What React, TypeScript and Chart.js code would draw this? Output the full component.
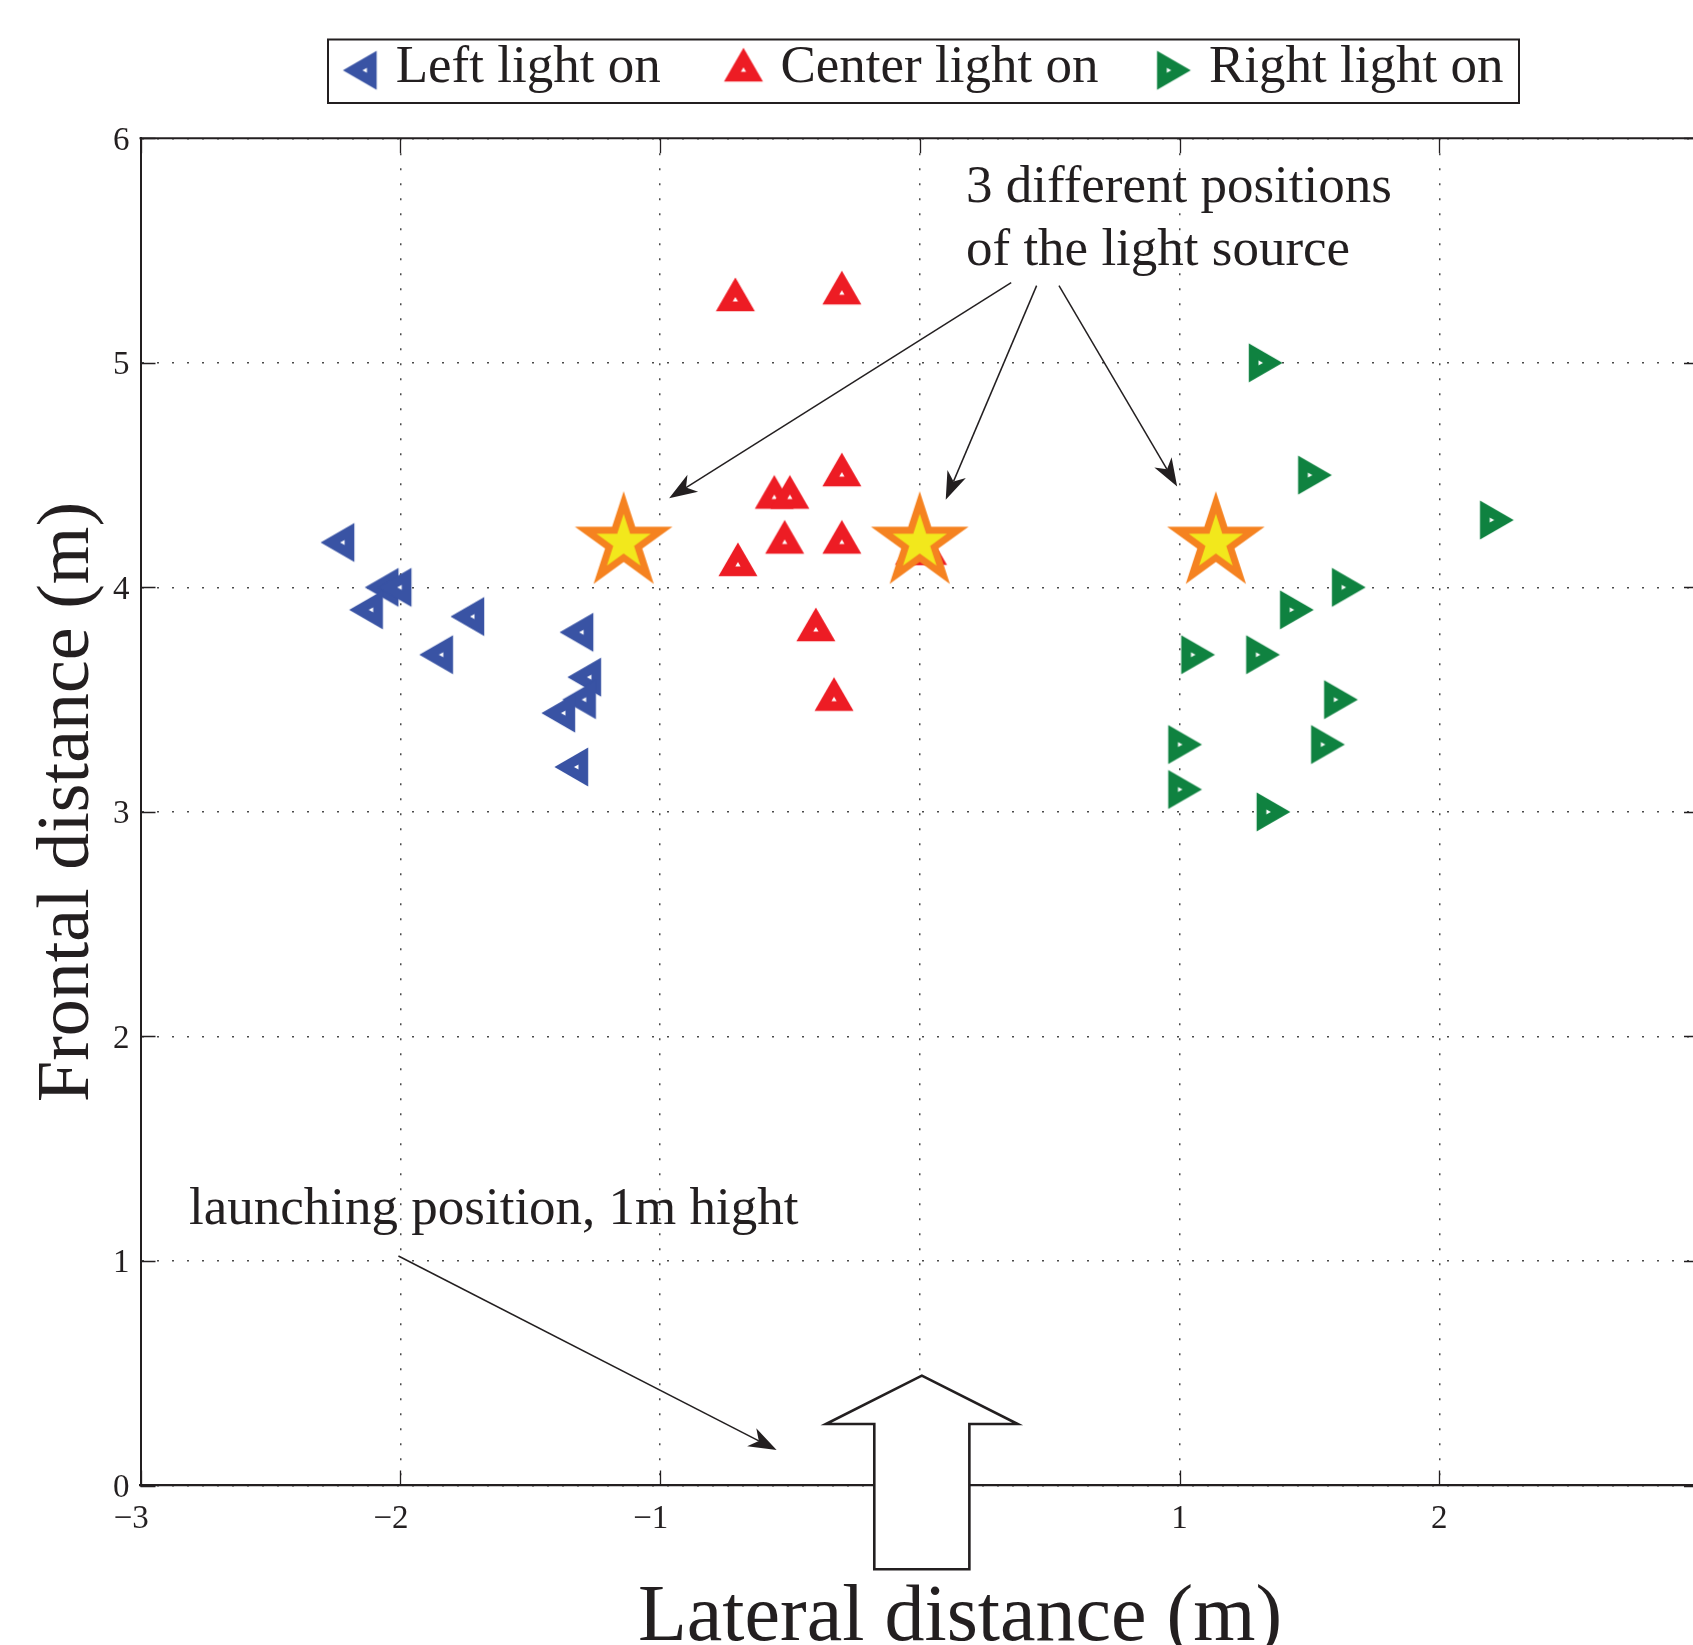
import React, { useEffect, useRef } from "react";
import { Chart, registerables } from "chart.js";

Chart.register(...registerables);

// ---------------- data ----------------
const xTickValues = [-3, -2, -1, 0, 1, 2, 3];
const yTickValues = [0, 1, 2, 3, 4, 5, 6];
const seriesLabels = ["Left light on", "Center light on", "Right light on"];

const leftX = [-2.22, -2.05, -2.0, -2.11, -1.72, -1.84, -1.3, -1.27, -1.29, -1.37, -1.32];
const leftY = [4.2, 4.0, 4.0, 3.9, 3.87, 3.7, 3.8, 3.6, 3.5, 3.44, 3.2];

const centerX = [-0.71, -0.3, -0.3, -0.56, -0.5, -0.52, -0.3, -0.7, -0.4, -0.33, -0.02, 0.03];
const centerY = [5.28, 5.31, 4.5, 4.4, 4.4, 4.2, 4.2, 4.1, 3.81, 3.5, 4.15, 4.15];

const rightX = [1.31, 1.5, 2.2, 1.63, 1.43, 1.05, 1.3, 1.6, 1.0, 1.55, 1.0, 1.34];
const rightY = [5.0, 4.5, 4.3, 4.0, 3.9, 3.7, 3.7, 3.5, 3.3, 3.3, 3.1, 3.0];

const lightX = [-1.14, 0.0, 1.14];
const lightY = [4.2, 4.2, 4.2];

const xTitle = "Lateral distance (m)";
const yTitle = "Frontal distance (m)";

const calloutLines = ["3 different positions", "of the light source"];
const calloutX = 0.178;
const calloutBaselines = [5.717, 5.435];
const lightArrowStarts = [
  [0.352, 5.357],
  [0.45, 5.344],
  [0.536, 5.344],
];
const lightArrowEnds = [
  [-0.965, 4.397],
  [0.1, 4.39],
  [0.991, 4.449],
];

const launchText = "launching position, 1m hight";
const launchTextPos = [-2.813, 1.165];
const launchArrowStart = [-2.007, 1.022];
const launchArrowEnd = [-0.551, 0.158];

// hollow "launch" arrow outline, in data units
const bigArrowX = [0.008, 0.377, 0.191, 0.191, -0.175, -0.175, -0.361];
const bigArrowY = [0.489, 0.274, 0.274, -0.373, -0.373, 0.274, 0.274];

// ---------------- style ----------------
const INK = "#231f20";
const BLUE = "#3953a4";
const RED = "#ed1c24";
const GREEN = "#0f8240";
const STAR_FILL = "#f2e81c";
const STAR_EDGE = "#f58220";
const SERIF = '"Liberation Serif", "Times New Roman", serif';

function makeTriangle(color: string, dir: "left" | "up" | "right"): HTMLCanvasElement {
  const S = 52;
  const c = document.createElement("canvas");
  c.width = S;
  c.height = S;
  const ctx = c.getContext("2d")!;
  const side = 39;
  const R = side / Math.sqrt(3);
  const rot = dir === "up" ? 0 : dir === "right" ? Math.PI / 2 : -Math.PI / 2;
  ctx.translate(S / 2, S / 2);
  ctx.rotate(rot);
  const tri = (r: number) => {
    ctx.beginPath();
    for (let i = 0; i < 3; i++) {
      const a = (i * 2 * Math.PI) / 3;
      ctx.lineTo(r * Math.sin(a), -r * Math.cos(a));
    }
    ctx.closePath();
  };
  tri(R);
  ctx.fillStyle = color;
  ctx.fill();
  tri(3);
  ctx.fillStyle = "#ffffff";
  ctx.fill();
  return c;
}

function makeStar(): HTMLCanvasElement {
  const S = 124;
  const c = document.createElement("canvas");
  c.width = S;
  c.height = S;
  const ctx = c.getContext("2d")!;
  ctx.translate(S / 2, S / 2);
  const Ro = 40;
  const Ri = Ro * 0.382;
  ctx.beginPath();
  for (let i = 0; i < 10; i++) {
    const r = i % 2 === 0 ? Ro : Ri;
    const a = (i * Math.PI) / 5;
    ctx.lineTo(r * Math.sin(a), -r * Math.cos(a));
  }
  ctx.closePath();
  ctx.fillStyle = STAR_FILL;
  ctx.fill();
  ctx.lineJoin = "miter";
  ctx.miterLimit = 10;
  ctx.lineWidth = 7;
  ctx.strokeStyle = STAR_EDGE;
  ctx.stroke();
  return c;
}

function drawArrow(ctx: CanvasRenderingContext2D, x1: number, y1: number, x2: number, y2: number) {
  const ang = Math.atan2(y2 - y1, x2 - x1);
  const ux = Math.cos(ang);
  const uy = Math.sin(ang);
  const px = -uy;
  const py = ux;
  const L = 28;
  const W = 10;
  const back = 20;
  ctx.beginPath();
  ctx.moveTo(x1, y1);
  ctx.lineTo(x2 - ux * back, y2 - uy * back);
  ctx.stroke();
  ctx.beginPath();
  ctx.moveTo(x2, y2);
  ctx.lineTo(x2 - ux * L + px * W, y2 - uy * L + py * W);
  ctx.lineTo(x2 - ux * back, y2 - uy * back);
  ctx.lineTo(x2 - ux * L - px * W, y2 - uy * L - py * W);
  ctx.closePath();
  ctx.fill();
}

const CANVAS_W = 1720;
const CANVAS_H = 1645;
const VISIBLE_W = 1693;

export default function App() {
  const ref = useRef<HTMLCanvasElement>(null);

  useEffect(() => {
    const canvas = ref.current!;
    const leftImg = makeTriangle(BLUE, "left");
    const upImg = makeTriangle(RED, "up");
    const rightImg = makeTriangle(GREEN, "right");
    const starImg = makeStar();

    const annotations = {
      id: "annotations",
      afterDatasetsDraw(chart: any) {
        const ctx: CanvasRenderingContext2D = chart.ctx;
        const xs = chart.scales.x;
        const ys = chart.scales.y;
        const ca = chart.chartArea;
        const X = (v: number) => xs.getPixelForValue(v);
        const Y = (v: number) => ys.getPixelForValue(v);
        ctx.save();

        // top frame line
        ctx.strokeStyle = INK;
        ctx.lineWidth = 2;
        ctx.beginPath();
        ctx.moveTo(ca.left - 1, ca.top);
        ctx.lineTo(ca.right + 1, ca.top);
        ctx.stroke();

        // inward tick marks
        ctx.lineWidth = 1.3;
        ctx.beginPath();
        xTickValues.forEach((v) => {
          const px = Math.round(X(v)) + 0.5;
          ctx.moveTo(px, ca.bottom);
          ctx.lineTo(px, ca.bottom - 15);
          ctx.moveTo(px, ca.top);
          ctx.lineTo(px, ca.top + 15);
        });
        yTickValues.forEach((v) => {
          const py = Math.round(Y(v)) + 0.5;
          ctx.moveTo(ca.left, py);
          ctx.lineTo(ca.left + 15, py);
          ctx.moveTo(ca.right, py);
          ctx.lineTo(ca.right - 15, py);
        });
        ctx.stroke();

        // tick labels
        ctx.fillStyle = INK;
        ctx.font = `33px ${SERIF}`;
        ctx.textBaseline = "alphabetic";
        xTickValues.forEach((v) => {
          const px = X(v);
          if (px > VISIBLE_W - 10) return;
          const digits = String(Math.abs(v));
          const w = ctx.measureText(digits).width;
          ctx.textAlign = "center";
          ctx.fillText(digits, px, ca.bottom + 42);
          if (v < 0) {
            ctx.textAlign = "right";
            ctx.fillText("\u2212", px - w / 2, ca.bottom + 42);
          }
        });
        ctx.textAlign = "right";
        yTickValues.forEach((v) => {
          ctx.fillText(String(v), ca.left - 11, Y(v) + 11.5);
        });

        // big hollow launch arrow
        ctx.beginPath();
        bigArrowX.forEach((bx, i) => ctx.lineTo(X(bx), Y(bigArrowY[i])));
        ctx.closePath();
        ctx.fillStyle = "#ffffff";
        ctx.fill();
        ctx.lineWidth = 2.6;
        ctx.lineJoin = "miter";
        ctx.strokeStyle = INK;
        ctx.stroke();

        // callout arrows
        ctx.lineWidth = 1.5;
        ctx.strokeStyle = INK;
        ctx.fillStyle = INK;
        lightArrowStarts.forEach((s, i) => {
          const e = lightArrowEnds[i];
          drawArrow(ctx, X(s[0]), Y(s[1]), X(e[0]), Y(e[1]));
        });
        drawArrow(ctx, X(launchArrowStart[0]), Y(launchArrowStart[1]), X(launchArrowEnd[0]), Y(launchArrowEnd[1]));

        // callout texts
        ctx.font = `53px ${SERIF}`;
        ctx.textAlign = "left";
        ctx.textBaseline = "alphabetic";
        calloutLines.forEach((t, i) => ctx.fillText(t, X(calloutX), Y(calloutBaselines[i])));
        ctx.fillText(launchText, X(launchTextPos[0]), Y(launchTextPos[1]));

        // axis titles
        ctx.font = `80px ${SERIF}`;
        ctx.textAlign = "center";
        ctx.fillText(xTitle, 960, 1640);
        ctx.save();
        ctx.font = `74px ${SERIF}`;
        ctx.translate(88, 802);
        ctx.rotate(-Math.PI / 2);
        ctx.fillText(yTitle, 0, 0);
        ctx.restore();

        // legend
        const bx = 328, by = 39.5, bw = 1191, bh = 63.5;
        ctx.fillStyle = "#ffffff";
        ctx.fillRect(bx, by, bw, bh);
        ctx.lineWidth = 2;
        ctx.strokeStyle = INK;
        ctx.strokeRect(bx, by, bw, bh);
        const imgs = [leftImg, upImg, rightImg];
        const markerX = [365.4, 743.5, 1168.3];
        const textX = [395.7, 780.5, 1209];
        ctx.font = `53px ${SERIF}`;
        ctx.textAlign = "left";
        ctx.fillStyle = INK;
        seriesLabels.forEach((lab, i) => {
          const img = imgs[i];
          ctx.drawImage(img, markerX[i] - img.width / 2, 70.3 - img.height / 2);
          ctx.fillText(lab, textX[i], 81.7);
        });

        ctx.restore();
      },
    };

    const toPts = (xs: number[], ys: number[]) => xs.map((x, i) => ({ x, y: ys[i] }));

    const chart = new Chart(canvas, {
      type: "scatter",
      data: {
        datasets: [
          { label: "Light source", data: toPts(lightX, lightY), pointStyle: starImg as any, pointRadius: 20, order: 0 },
          { label: seriesLabels[0], data: toPts(leftX, leftY), pointStyle: leftImg as any, pointRadius: 20, order: 1 },
          { label: seriesLabels[1], data: toPts(centerX, centerY), pointStyle: upImg as any, pointRadius: 20, order: 2 },
          { label: seriesLabels[2], data: toPts(rightX, rightY), pointStyle: rightImg as any, pointRadius: 20, order: 3 },
        ],
      },
      options: {
        animation: false,
        responsive: false,
        maintainAspectRatio: false,
        devicePixelRatio: 1,
        events: [],
        layout: {
          padding: { left: 140.5, top: 138.3, right: CANVAS_W - 1702, bottom: CANVAS_H - 1485.5 },
        },
        plugins: {
          legend: { display: false },
          tooltip: { enabled: false },
          title: { display: false },
        },
        scales: {
          x: {
            type: "linear",
            min: -3,
            max: 3,
            ticks: { display: false, stepSize: 1 },
            grid: { color: "#4a4a4a", lineWidth: 1.5, drawTicks: false },
            border: { display: true, color: INK, width: 2.3, dash: [2, 13] },
          },
          y: {
            type: "linear",
            min: 0,
            max: 6,
            ticks: { display: false, stepSize: 1 },
            grid: { color: "#4a4a4a", lineWidth: 1.5, drawTicks: false },
            border: { display: true, color: INK, width: 2, dash: [2, 13] },
          },
        },
      },
      plugins: [annotations],
    });

    return () => chart.destroy();
  }, []);

  return (
    <div
      style={{
        position: "absolute",
        left: 0,
        top: 0,
        width: VISIBLE_W,
        height: 1645,
        overflow: "hidden",
        background: "#ffffff",
      }}
    >
      <canvas ref={ref} width={CANVAS_W} height={CANVAS_H} style={{ display: "block", width: CANVAS_W, height: CANVAS_H }} />
    </div>
  );
}
